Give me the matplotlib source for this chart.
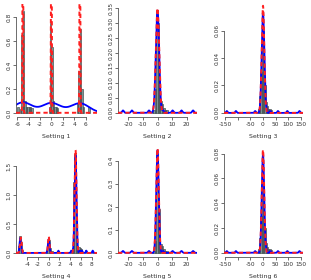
import numpy as np
import matplotlib
matplotlib.use("Agg")
import matplotlib.pyplot as plt

# ---- data ----
# histograms: bar centers, bar heights, bin width
p1_centers = [-5.875, -5.375, -5.125, -4.875, -4.625, -4.375, -4.125, -3.875, -3.625, -3.375,
              -0.375, -0.125, 0.125, 0.375, 0.625, 0.875, 1.125,
              4.625, 4.875, 5.125, 5.375, 5.625, 6.625]
p1_heights = [0.05, 0.03, 0.65, 0.85, 0.10, 0.05, 0.05, 0.05, 0.05, 0.04,
              0.05, 0.75, 0.55, 0.10, 0.05, 0.05, 0.04,
              0.08, 0.35, 0.70, 0.20, 0.05, 0.05]
p2_centers = [-3.5, -2.5, -1.5, -0.5, 0.5, 1.5, 2.5, 3.5, 4.5, 5.5, 6.5]
p2_heights = [0.005, 0.01, 0.08, 0.33, 0.30, 0.12, 0.04, 0.03, 0.015, 0.01, 0.01]
p3_centers = [-17.5, -12.5, -7.5, -2.5, 2.5, 7.5, 12.5, 17.5, 22.5, 27.5, 32.5]
p3_heights = [0.003, 0.012, 0.03, 0.074, 0.06, 0.02, 0.008, 0.005, 0.003, 0.003, 0.002]
p4_centers = [-5.625, -5.375, -5.125, -4.875, -0.375, -0.125, 0.125, 0.375, 0.625, 1.875,
              4.125, 4.375, 4.625, 4.875, 5.125, 5.375, 5.625, 5.875, 6.125, 6.875, 8.125]
p4_heights = [0.12, 0.29, 0.18, 0.05, 0.05, 0.20, 0.23, 0.08, 0.04, 0.03,
              0.03, 0.08, 1.23, 1.70, 0.30, 0.12, 0.10, 0.08, 0.06, 0.05, 0.04]
p5_centers = [-3.5, -2.5, -1.5, -0.5, 0.5, 1.5, 2.5, 3.5, 4.5, 5.5, 6.5]
p5_heights = [0.005, 0.01, 0.05, 0.43, 0.25, 0.19, 0.04, 0.03, 0.015, 0.01, 0.01]
p6_centers = [-17.5, -12.5, -7.5, -2.5, 2.5, 7.5, 12.5, 17.5, 22.5, 27.5, 32.5]
p6_heights = [0.003, 0.012, 0.03, 0.079, 0.05, 0.02, 0.008, 0.005, 0.003, 0.003, 0.002]
bin_widths = [0.25, 1, 5, 0.25, 1, 5]

# density curves as normal mixtures: (weight, mean, sd)
bumps_26 = [-23.6, -17.5, -5.8, 3.9, 10.3, 16.4, 24.3]
bumps_36 = [-143, -107, -31, 12, 29, 59, 96, 144]
true_1 = [(1/3, -5, 0.06), (1/3, 0, 0.06), (1/3, 5, 0.06)]
fit_1 = [(0.35, -5, 1.6), (0.33, 0, 1.6), (0.32, 5, 1.6)]
true_2 = [(1.0, 0, 1.14)]
fit_2 = [(0.96, 0, 1.12)] + [(0.012, m, 0.6) for m in bumps_26]
true_3 = [(1.0, 0, 5.1)]
fit_3 = [(0.96, 0, 5.2)] + [(0.009, m, 2.6) for m in bumps_36]
true_4 = [(0.1, -5.2, 0.15), (0.1, 0, 0.14), (0.8, 5, 0.18)]
fit_4 = [(0.09, -5.3, 0.14), (0.09, 0, 0.15), (0.76, 5, 0.18)] + \
        [(0.01, m, 0.1) for m in [1.8, 4.2, 5.8, 6.2, 7.0, 8.2]]
true_5 = [(1.0, 0, 0.88)]
fit_5 = [(0.96, 0, 0.86)] + [(0.012, m, 0.6) for m in bumps_26]
true_6 = [(1.0, 0, 4.8)]
fit_6 = [(0.96, 0, 4.8)] + [(0.009, m, 2.6) for m in bumps_36]

titles = ["Setting 1", "Setting 2", "Setting 3", "Setting 4", "Setting 5", "Setting 6"]
xticks = [[-6, -4, -2, 0, 2, 4, 6], [-20, -10, 0, 10, 20], [-150, -100, -50, 0, 50, 100, 150],
          [-4, -2, 0, 2, 4, 6, 8], [-20, -10, 0, 10, 20], [-150, -100, -50, 0, 50, 100, 150]]
xticklabels = [["-6", "-4", "-2", "0", "2", "4", "6"], ["-20", "-10", "0", "10", "20"],
               ["-150", "", "-50", "0", "50", "100", "150"],
               ["-4", "-2", "0", "2", "4", "6", "8"], ["-20", "-10", "0", "10", "20"],
               ["-150", "", "-50", "0", "50", "100", "150"]]
yticks = [[0, 0.2, 0.4, 0.6, 0.8], [0, 0.05, 0.10, 0.15, 0.20, 0.25, 0.30, 0.35],
          [0, 0.02, 0.04, 0.06], [0, 0.5, 1.0, 1.5], [0, 0.1, 0.2, 0.3, 0.4],
          [0, 0.02, 0.04, 0.06, 0.08]]
yfmt = ["%.1f", "%.2f", "%.2f", "%.1f", "%.1f", "%.2f"]
xlims = [(-6.2, 8.0), (-27, 27), (-154, 158), (-6.1, 9.0), (-27, 27), (-154, 158)]
ylims = [(-0.035, 0.91), (-0.014, 0.364), (-0.003, 0.0795), (-0.07, 1.86), (-0.018, 0.468), (-0.0034, 0.087)]

centers = [p1_centers, p2_centers, p3_centers, p4_centers, p5_centers, p6_centers]
heights = [p1_heights, p2_heights, p3_heights, p4_heights, p5_heights, p6_heights]
trues = [true_1, true_2, true_3, true_4, true_5, true_6]
fits = [fit_1, fit_2, fit_3, fit_4, fit_5, fit_6]


def mixture(x, comps):
    y = np.zeros_like(x)
    for w, m, s in comps:
        y += w * np.exp(-0.5 * ((x - m) / s) ** 2) / (s * np.sqrt(2 * np.pi))
    return y


fig = plt.figure(figsize=(3.11, 2.80), dpi=100)
W, H = 311.0, 280.0
lefts = [16, 118, 224]
rights = [97, 197, 303]
tops = [4, 145]
bottoms = [117, 257]

txt = "#333333"
for i in range(6):
    r, c = divmod(i, 3)
    ax = fig.add_axes([lefts[c] / W, 1 - bottoms[r] / H,
                       (rights[c] - lefts[c]) / W, (bottoms[r] - tops[r]) / H])
    ax.bar(centers[i], heights[i], width=bin_widths[i], color="#7a9494",
           edgecolor="#2f3a3a", linewidth=0.4, zorder=1)
    x = np.linspace(xlims[i][0], xlims[i][1], 4000)
    ax.plot(x, mixture(x, fits[i]), color="#0000ff", lw=1.3, zorder=2)
    ax.plot(x, mixture(x, trues[i]), color="#ff2020", lw=1.4,
            linestyle=(0, (2.2, 1.6)), zorder=3)
    ax.set_xlim(xlims[i])
    ax.set_ylim(ylims[i])
    ax.set_xticks(xticks[i])
    ax.set_xticklabels(xticklabels[i])
    ax.set_yticks(yticks[i])
    ax.set_yticklabels([yfmt[i] % v for v in yticks[i]], rotation=90, va="center")
    for s in ["top", "right"]:
        ax.spines[s].set_visible(False)
    ax.spines["left"].set_bounds(yticks[i][0], yticks[i][-1])
    ax.spines["bottom"].set_bounds(xticks[i][0], xticks[i][-1])
    for s in ["left", "bottom"]:
        ax.spines[s].set_color("#555555")
        ax.spines[s].set_linewidth(0.6)
    ax.tick_params(length=2, width=0.6, color="#555555", labelsize=4.2,
                   labelcolor=txt, pad=1.5)
    ax.patch.set_visible(False)
    ax.set_xlabel(titles[i], fontsize=4.5, color=txt, labelpad=5)

plt.savefig("out.png", dpi=100)
